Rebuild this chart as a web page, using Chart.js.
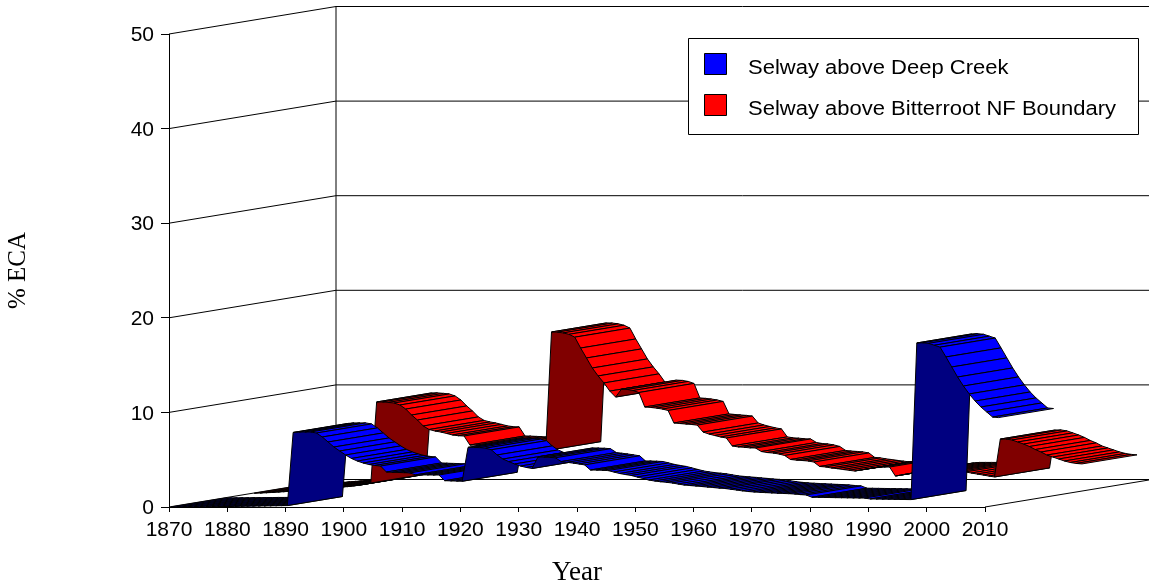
<!DOCTYPE html>
<html>
<head>
<meta charset="utf-8">
<style>html,body{margin:0;padding:0;background:#fff}canvas{display:block}</style>
<script src="https://cdn.jsdelivr.net/npm/chart.js@4"></script>
</head>
<body>
<canvas id="c" width="1149" height="586"></canvas>
<script>
const firstYear = 1870;
const xTicks = [1870,1880,1890,1900,1910,1920,1930,1940,1950,1960,1970,1980,1990,2000,2010];
const yTicks = [0,10,20,30,40,50];
const deepCreekName = 'Selway above Deep Creek';
const bitterrootName = 'Selway above Bitterroot NF Boundary';
const deepCreek = [
 0,0.01,0.01,0.02,0.02,0.03,0.03,0.04,0.04,0.05,0.05,0.06,0.07,0.08,0.09,0.1,0.11,0.12,0.13,0.14,0.15,
 7.88,7.93,7.93,7.93,7.82,7.4,6.87,6.34,5.92,5.5,5.13,4.86,4.65,4.49,4.39,4.33,
 3.7,3.67,3.65,3.63,3.6,3.4,3.39,3.39,3.38,3.38,2.78,2.76,2.74,2.72,
 6.3,6.3,6.28,6.22,6.05,5.5,5.07,4.8,4.55,4.33,4.18,4.07,
 5.29,5.27,5.25,5.2,4.8,4.72,4.64,4.55,4.45,3.91,3.9,3.88,3.85,
 3.7,3.54,3.43,3.33,3.17,3.01,2.85,2.75,2.67,2.61,2.54,2.43,2.33,2.27,2.22,
 2.17,2.11,2.06,2.0,1.96,1.88,1.8,1.71,1.64,1.59,1.55,1.52,1.49,1.46,1.43,1.41,1.37,1.31,1.27,
 1.03,1.02,1.01,1.0,0.99,0.98,0.97,0.96,0.95,0.94,0.85,0.84,0.83,0.82,0.81,0.8,0.79,0.78,
 17.34,17.36,17.3,17.1,16.9,15.86,14.8,13.74,12.79,11.95,11.2,10.57,10.04,9.51,9.45
];
const bitterroot = [
 0,0.02,0.05,0.08,0.12,0.16,0.2,0.25,0.3,0.35,0.4,0.45,0.5,0.55,0.6,0.65,0.7,0.77,0.85,0.95,1.08,
 9.65,9.65,9.6,9.54,9.33,8.9,8.27,7.74,7.11,6.74,6.58,6.47,6.32,6.16,6.08,6.05,
 5.1,5.08,5.05,5.02,5.0,4.97,4.9,4.85,4.8,4.75,4.65,4.6,4.55,4.5,
 17.05,17.03,16.95,16.8,16.5,15.35,14.3,13.24,12.4,11.66,10.8,10.17,
 11.0,10.97,10.86,10.65,9.12,9.07,9.0,8.9,8.75,7.43,7.37,7.32,7.27,
 7.2,6.47,6.26,6.1,5.95,5.84,5.0,4.9,4.86,4.8,4.78,4.41,4.3,4.25,4.15,
 3.99,3.57,3.5,3.46,3.41,3.3,2.83,2.78,2.67,2.6,2.51,2.43,2.35,2.45,2.55,2.65,2.72,2.77,2.77,
 1.82,1.93,2.03,2.14,2.25,2.3,2.3,2.3,2.3,2.3,2.3,2.28,2.25,2.14,2.03,1.93,1.82,1.72,
 5.73,5.73,5.63,5.42,5.2,4.94,4.62,4.36,4.04,3.83,3.62,3.41,3.25,3.15,3.1
];

const PHASE = 0.3, DEPTH_X = 167, DEPTH_Y = 27.5;
const BLUE = {d0:0, d1:0.33, bright:'#0000ff', dark:'#000080'};
const RED  = {d0:0.5, d1:0.83, bright:'#ff0000', dark:'#800000'};

const ribbons = {
  id:'ribbons',
  beforeDatasetsDraw(chart){
    const {ctx, scales:{x,y}} = chart;
    const right = chart.width;
    ctx.save();
    ctx.strokeStyle = '#000'; ctx.lineWidth = 1;
    const seg = (a,b,c,d)=>{ctx.beginPath();ctx.moveTo(a,b);ctx.lineTo(c,d);ctx.stroke();};
    const bl = x.getPixelForValue(x.min), br = x.getPixelForValue(x.max);
    y.ticks.forEach(t=>{
      const py = y.getPixelForValue(t.value);
      seg(bl,py,bl+DEPTH_X,py-DEPTH_Y);
      seg(bl+DEPTH_X,py-DEPTH_Y,right,py-DEPTH_Y);
    });
    const y0 = y.getPixelForValue(0), yT = y.getPixelForValue(y.max);
    seg(bl+DEPTH_X,y0-DEPTH_Y,bl+DEPTH_X,yT-DEPTH_Y);
    seg(br,y0,br+DEPTH_X,y0-DEPTH_Y);
    ctx.restore();
  },
  afterDatasetsDraw(chart){
    const {ctx, scales:{x,y}} = chart;
    ctx.save();
    ctx.lineJoin = 'round';
    [[1,RED],[0,BLUE]].forEach(([i,st])=>{
      const pts = chart.data.datasets[i].data;
      const P = (p,d)=>[x.getPixelForValue(p.x+PHASE)+DEPTH_X*d, y.getPixelForValue(p.y)-DEPTH_Y*d];
      for(let k=0;k<pts.length-1;k++){
        const a=P(pts[k],st.d0), b=P(pts[k+1],st.d0), c=P(pts[k+1],st.d1), e=P(pts[k],st.d1);
        const cross=(b[0]-a[0])*(e[1]-a[1])-(b[1]-a[1])*(e[0]-a[0]);
        ctx.beginPath();ctx.moveTo(a[0],a[1]);ctx.lineTo(b[0],b[1]);ctx.lineTo(c[0],c[1]);ctx.lineTo(e[0],e[1]);ctx.closePath();
        ctx.fillStyle = cross<0 ? st.bright : st.dark;
        ctx.fill();
        ctx.strokeStyle='#000';ctx.lineWidth=1;ctx.stroke();
      }
    });
    // legend
    ctx.fillStyle='#fff';ctx.fillRect(688.5,38.5,450,96);
    ctx.strokeStyle='#000';ctx.lineWidth=1;ctx.strokeRect(688.5,38.5,450,96);
    const rows=[[deepCreekName,BLUE.bright,53,68.5],[bitterrootName,RED.bright,94,109.5]];
    rows.forEach(([t,col,by,ty])=>{
      ctx.fillStyle=col;ctx.fillRect(704.5,by+.5,22,21);
      ctx.strokeStyle='#000';ctx.strokeRect(704.5,by+.5,22,21);
      ctx.save();
      ctx.translate(748,ty);ctx.scale(1.1,1);
      ctx.fillStyle='#000';ctx.font='20px "Liberation Sans"';ctx.textBaseline='middle';ctx.textAlign='left';
      ctx.fillText(t,0,0);
      ctx.restore();
    });
    ctx.restore();
  }
};

const years = deepCreek.map((_,i)=>firstYear+i);
new Chart(document.getElementById('c'),{
  type:'line',
  data:{datasets:[
    {label:deepCreekName,data:years.map((yr,i)=>({x:yr,y:deepCreek[i]})),borderColor:'rgba(0,0,0,0)',backgroundColor:BLUE.bright,pointRadius:0,borderWidth:0},
    {label:bitterrootName,data:years.map((yr,i)=>({x:yr,y:bitterroot[i]})),borderColor:'rgba(0,0,0,0)',backgroundColor:RED.bright,pointRadius:0,borderWidth:0}
  ]},
  plugins:[ribbons],
  options:{
    responsive:false,animation:false,
    layout:{padding:{left:0,right:164,top:34,bottom:0}},
    plugins:{legend:{display:false},tooltip:{enabled:false}},
    scales:{
      x:{type:'linear',min:1870,max:2010,
        afterBuildTicks:s=>{s.ticks=xTicks.map(v=>({value:v}));},
        afterFit:s=>{s.height=79;},
        border:{color:'#000',width:1},
        grid:{drawOnChartArea:false,tickLength:5,color:'#000'},
        ticks:{autoSkip:false,maxRotation:0,minRotation:0,padding:6,color:'#000',font:{family:'"Liberation Sans"',size:21},callback:v=>String(v)},
        title:{display:true,text:'Year',color:'#000',font:{family:'"Liberation Serif"',size:27},padding:{top:0,bottom:-3}}
      },
      y:{type:'linear',min:0,max:50,
        afterBuildTicks:s=>{s.ticks=yTicks.map(v=>({value:v}));},
        afterFit:s=>{s.width=169;},
        border:{color:'#000',width:1},
        grid:{drawOnChartArea:false,tickLength:8,color:'#000'},
        ticks:{padding:7,labelOffset:1.5,color:'#000',font:{family:'"Liberation Sans"',size:21}},
        title:{display:true,text:'% ECA',color:'#000',font:{family:'"Liberation Serif"',size:25},padding:{top:3,bottom:0}}
      }
    }
  }
});
</script>
</body>
</html>
